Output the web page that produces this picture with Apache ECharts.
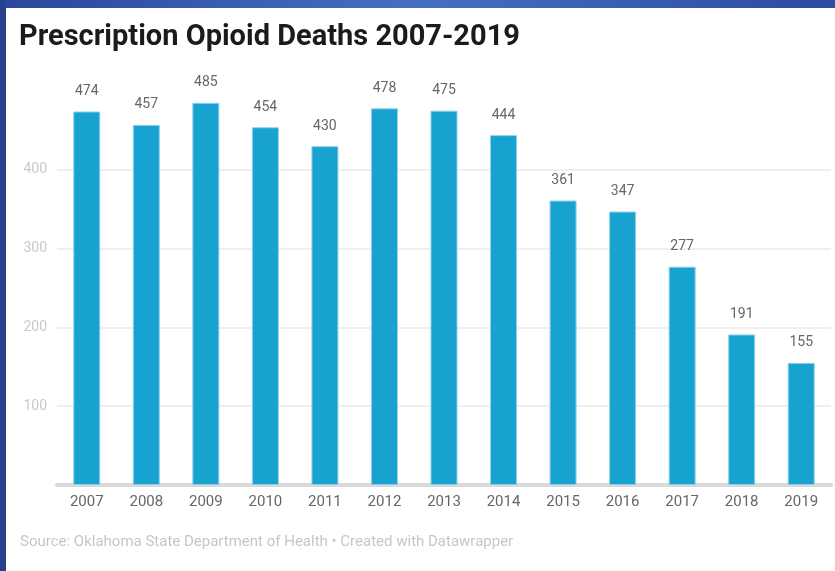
<!DOCTYPE html>
<html lang="en">
<head>
  <meta charset="UTF-8">
  <title>Prescription Opioid Deaths 2007-2019</title>
  <style>
    html, body { margin: 0; padding: 0; background: #fff; }
    .main { position: relative; width: 835px; height: 571px; overflow: hidden; }
    #chart { position: absolute; left: 0; top: 0; width: 835px; height: 571px; }
    .frame_top { position: absolute; left: 0; top: 0; width: 835px; height: 8px; z-index: 2;
      background: linear-gradient(90deg, #2b479c 0%, #4470c2 50%, #2d4ba0 100%); }
    .frame_left { position: absolute; left: 0; top: 0; width: 6px; height: 571px; z-index: 2; background: #27418f; }
  </style>
</head>
<body>
  <div class="main">
    <div id="chart"></div>
    <div class="frame_top"></div>
    <div class="frame_left"></div>
  </div>
<script src="https://cdn.jsdelivr.net/npm/echarts@6/dist/echarts.min.js"></script>
<script type="text/javascript">
  // data
  var years = ['2007','2008','2009','2010','2011','2012','2013','2014','2015','2016','2017','2018','2019'];
  var deaths = [474, 457, 485, 454, 430, 478, 475, 444, 361, 347, 277, 191, 155];
  var yTicks = [100, 200, 300, 400];

  var myChart = echarts.init(document.getElementById('chart'));

  var option = {
    backgroundColor: '#fff',
    animation: false,
    title: {
      text: 'Prescription Opioid Deaths 2007-2019',
      left: 19,
      top: 23,
      padding: 0,
      textStyle: {
        fontFamily: 'Roboto',
        fontWeight: 'bold',
        fontSize: 29,
        color: '#1b1b1b'
      }
    },
    graphic: [{
      type: 'text',
      left: 20,
      top: 535,
      style: {
        text: 'Source: Oklahoma State Department of Health \u2022 Created with Datawrapper',
        fontFamily: 'Roboto',
        fontSize: 15,
        fill: '#c6c6c6'
      }
    }],
    grid: {
      left: 57,
      right: 4,
      top: 91,
      bottom: 86
    },
    xAxis: {
      type: 'category',
      data: years,
      axisTick: { show: false },
      axisLine: {
        lineStyle: { color: '#d9d9d9', width: 4 }
      },
      axisLabel: {
        margin: 10,
        fontFamily: 'Roboto',
        fontSize: 15,
        color: '#666'
      }
    },
    yAxis: {
      type: 'value',
      min: 0,
      max: 500,
      interval: 100,
      axisLine: { show: false },
      axisTick: { show: false },
      axisLabel: {
        margin: 10,
        fontFamily: 'Roboto',
        fontSize: 14,
        color: '#c8c8c8',
        formatter: function (v) {
          return yTicks.indexOf(v) >= 0 ? String(v) : '';
        }
      },
      splitLine: {
        lineStyle: {
          color: ['transparent', '#efefef', '#efefef', '#efefef', '#efefef', 'transparent'],
          width: 2
        }
      }
    },
    series: [{
      type: 'bar',
      data: deaths,
      barWidth: 27,
      itemStyle: {
        color: '#17a2cf',
        borderColor: '#8fd0e8',
        borderWidth: 1
      },
      label: {
        show: true,
        position: 'top',
        distance: 13,
        fontFamily: 'Roboto',
        fontSize: 14,
        color: '#666'
      }
    }]
  };

  myChart.setOption(option);
</script>
</body>
</html>
